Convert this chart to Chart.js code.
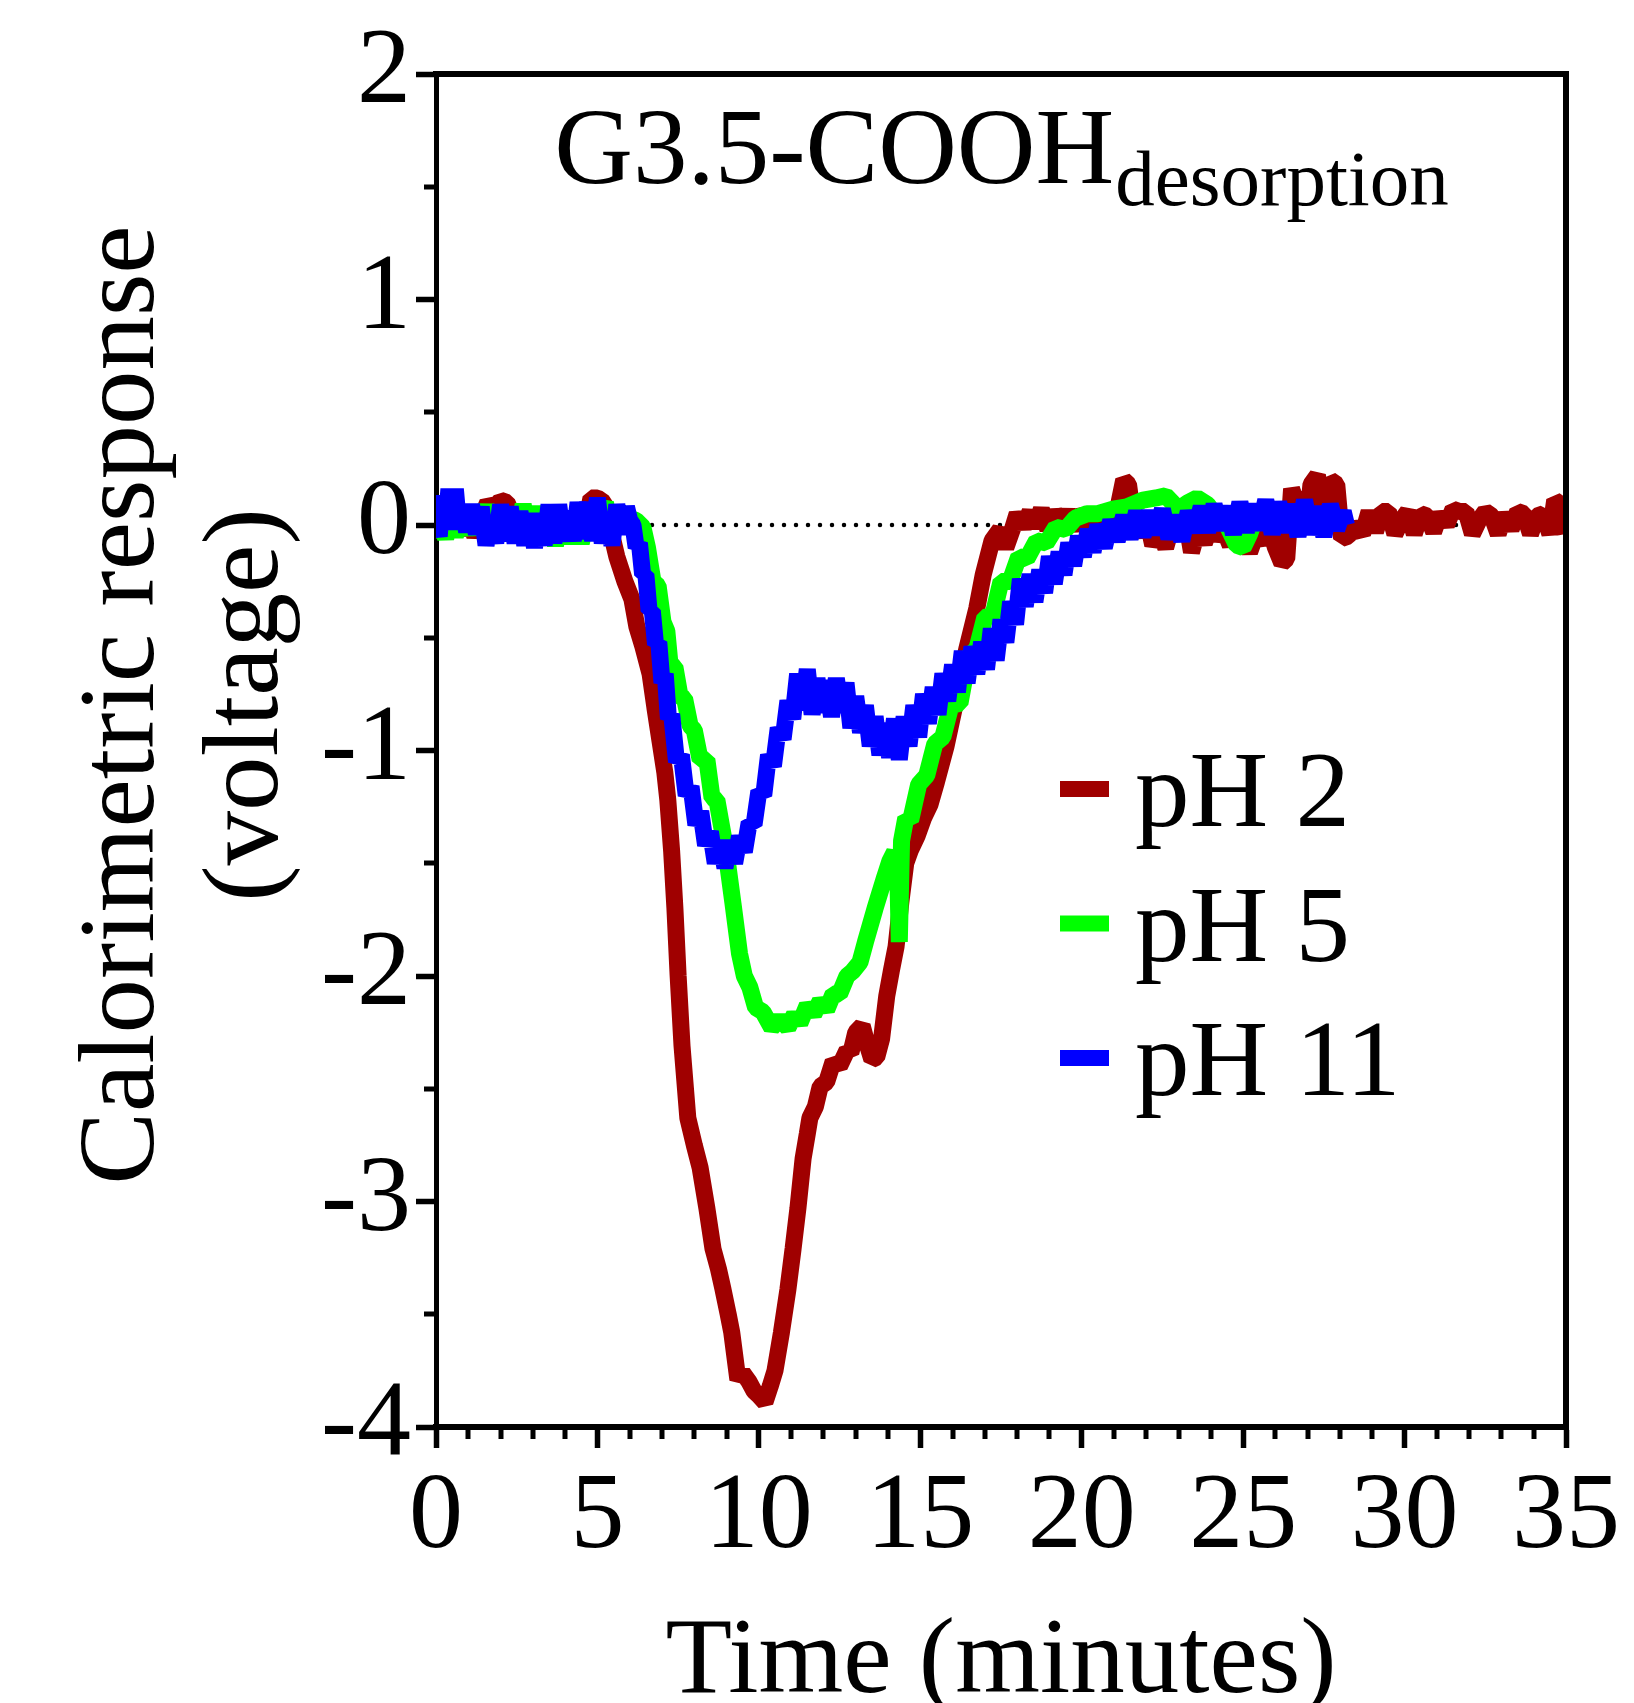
<!DOCTYPE html>
<html>
<head>
<meta charset="utf-8">
<title>G3.5-COOH desorption</title>
<script src="https://cdn.jsdelivr.net/npm/chart.js@4.4.1/dist/chart.umd.min.js"></script>
<style>
    html, body { margin: 0; padding: 0; background: #fff; }
    #wrap { width: 1634px; height: 1703px; }
</style>
</head>
<body>
<div id="wrap"><canvas id="calChart" width="1634" height="1703"></canvas></div>
<script>
// Data: [time (min), response (V)]
const seriesLabels = ['pH 2', 'pH 5', 'pH 11'];
const seriesColors = ['#a00000', '#00ff00', '#0000ff'];

const ph2 = [
    [0,-0.03],[0.2,0.05],[0.4,-0.02],[0.6,0.06],[0.8,-0.04],[1.0,0.04],[1.2,-0.05],[1.4,0.03],[1.6,0.10],[1.8,0.07],
    [2.0,0.11],[2.2,0.10],[2.4,0.03],[2.6,-0.03],[2.8,0.05],[3.0,-0.04],[3.2,0.04],[3.4,-0.05],[3.6,0.05],[3.8,-0.03],
    [4.0,0.04],[4.2,-0.04],[4.4,0.06],[4.6,-0.02],[4.8,0.12],[5.0,0.12],[5.2,0.10],[5.35,0.00],[5.5,-0.08],
    [5.6,-0.14],[5.85,-0.25],[6.07,-0.33],[6.22,-0.45],[6.41,-0.54],[6.63,-0.66],[6.78,-0.81],[6.94,-0.96],[7.09,-1.10],[7.18,-1.22],
    [7.3,-1.45],[7.4,-1.70],[7.5,-2.00],[7.62,-2.31],[7.8,-2.63],[8.0,-2.75],[8.18,-2.85],[8.39,-3.03],[8.58,-3.21],[8.75,-3.30],
    [8.89,-3.39],[9.05,-3.50],[9.16,-3.58],[9.35,-3.79],[9.5,-3.76],[9.7,-3.80],[9.85,-3.84],[10.0,-3.86],[10.19,-3.89],[10.35,-3.82],
    [10.5,-3.75],[10.7,-3.58],[10.9,-3.39],[11.06,-3.21],[11.21,-3.03],[11.37,-2.81],[11.5,-2.70],[11.58,-2.63],[11.75,-2.58],[11.9,-2.49],
    [12.1,-2.47],[12.3,-2.38],[12.5,-2.40],[12.73,-2.33],[12.85,-2.34],[13.0,-2.25],[13.2,-2.22],[13.35,-2.30],[13.5,-2.37],[13.65,-2.36],
    [13.8,-2.28],[13.96,-2.09],[14.1,-1.98],[14.25,-1.87],[14.4,-1.67],[14.55,-1.50],[14.7,-1.44],[14.9,-1.38],[15.1,-1.30],[15.3,-1.24],
    [15.5,-1.14],[15.8,-0.98],[16.1,-0.78],[16.44,-0.55],[16.75,-0.37],[16.95,-0.22],[17.22,-0.07],[17.47,-0.02],[17.65,-0.10],[17.85,-0.02],
    [18.0,0.05],[18.2,-0.01],[18.4,0.06],[18.55,-0.01],[18.75,0.07],[18.95,-0.02],[19.15,0.06],[19.35,0.00],[19.55,0.06],[19.8,-0.02],
    [20.0,0.06],[20.3,0.01],[20.6,0.05],[20.9,-0.02],[21.1,0.06],[21.3,0.20],[21.45,0.18],[21.6,0.02],[21.8,-0.05],[22.0,0.04],
    [22.2,-0.09],[22.4,-0.03],[22.6,-0.10],[22.8,0.00],[23.0,-0.02],[23.2,0.05],[23.4,-0.12],[23.6,-0.02],[23.8,-0.08],[24.0,0.00],
    [24.2,-0.06],[24.4,-0.02],[24.6,-0.09],[24.8,0.02],[25.0,-0.05],[25.2,-0.12],[25.4,-0.04],[25.6,-0.08],[25.8,0.00],[26.0,-0.10],
    [26.2,-0.17],[26.35,-0.15],[26.5,0.16],[26.65,0.10],[26.8,0.14],[26.95,-0.04],[27.1,0.18],[27.3,0.22],[27.5,0.04],[27.7,0.20],
    [27.9,0.18],[28.05,-0.06],[28.25,-0.05],[28.45,0.00],[28.7,-0.04],[28.9,0.06],[29.1,-0.03],[29.3,0.06],[29.5,0.06],[29.7,-0.04],
    [29.9,0.02],[30.1,0.06],[30.3,-0.04],[30.5,0.05],[30.7,0.04],[30.9,-0.03],[31.1,0.05],[31.3,0.00],[31.5,0.07],[31.7,0.06],
    [31.9,0.06],[32.1,-0.04],[32.3,0.02],[32.5,0.06],[32.7,0.04],[32.9,-0.04],[33.1,0.05],[33.3,-0.02],[33.5,0.06],[33.7,0.05],
    [33.9,-0.04],[34.1,0.04],[34.3,0.05],[34.5,-0.04],[34.65,0.11],[34.85,0.09],[35.0,-0.04]
];

const ph5 = [
    [0,-0.06],[0.15,0.02],[0.3,-0.06],[0.45,0.04],[0.6,-0.05],[0.8,0.05],[1.0,-0.04],[1.2,0.06],[1.4,-0.04],[1.55,0.09],
    [1.7,-0.05],[1.9,0.04],[2.1,-0.06],[2.3,0.06],[2.5,-0.05],[2.7,0.09],[2.9,-0.06],[3.1,0.08],[3.3,-0.06],[3.5,0.05],
    [3.7,-0.09],[3.9,0.04],[4.1,-0.08],[4.3,0.05],[4.5,-0.08],[4.7,0.04],[4.9,-0.05],[5.1,0.06],[5.25,0.10],[5.4,-0.05],
    [5.6,0.04],[5.8,-0.02],[6.0,0.03],[6.2,0.02],[6.41,-0.01],
    [6.55,-0.10],[6.72,-0.25],[6.88,-0.27],[7.03,-0.43],[7.15,-0.47],[7.25,-0.62],[7.4,-0.63],[7.56,-0.76],[7.7,-0.77],[7.87,-0.89],
    [8.0,-0.91],[8.18,-1.04],[8.39,-1.04],[8.55,-1.21],[8.7,-1.22],[8.9,-1.38],[9.05,-1.52],[9.2,-1.68],[9.4,-1.90],[9.55,-2.00],
    [9.72,-2.05],[9.9,-2.14],[10.13,-2.16],[10.4,-2.23],[10.65,-2.19],[10.9,-2.23],[11.1,-2.17],[11.27,-2.21],[11.5,-2.13],[11.7,-2.17],
    [11.9,-2.11],[12.1,-2.15],[12.3,-2.08],[12.5,-2.08],[12.73,-2.00],[12.9,-1.98],[13.13,-1.94],[13.3,-1.85],[13.44,-1.78],[13.6,-1.70],
    [13.75,-1.63],[13.9,-1.56],[14.06,-1.49],[14.2,-1.45],[14.3,-1.52],[14.35,-1.85],[14.42,-1.40],[14.55,-1.30],[14.7,-1.31],[14.95,-1.15],
    [15.2,-1.11],[15.45,-0.97],[15.7,-0.94],[15.95,-0.80],[16.23,-0.79],[16.5,-0.58],[16.75,-0.55],[17.0,-0.41],[17.25,-0.40],[17.5,-0.25],
    [17.78,-0.25],[18.05,-0.14],[18.3,-0.15],[18.6,-0.07],[18.9,-0.08],[19.2,-0.01],[19.5,-0.02],[19.8,0.03],[20.16,0.05],[20.5,0.05],
    [20.97,0.07],[21.4,0.08],[21.9,0.11],[22.3,0.12],[22.6,0.13],[22.8,0.10],[23.0,0.07],[23.3,0.10],[23.57,0.12],[23.9,0.09],
    [24.2,0.03],[24.5,0.00],[24.8,-0.09],[25.0,-0.10],[25.2,-0.04],[25.3,0.00]
];

const ph11 = [
    [0,0.00],[0.1,-0.05],[0.2,0.13],[0.3,-0.02],[0.4,0.16],[0.5,-0.02],[0.6,0.16],[0.7,0.00],[0.8,0.09],[0.95,-0.03],
    [1.1,0.09],[1.25,-0.04],[1.4,0.08],[1.55,-0.09],[1.7,0.03],[1.85,-0.08],[2.0,0.09],[2.15,-0.07],[2.3,0.08],[2.45,-0.08],
    [2.6,0.06],[2.75,-0.09],[2.9,0.05],[3.05,-0.10],[3.2,0.05],[3.35,-0.09],[3.5,0.09],[3.65,-0.08],[3.8,0.09],[3.95,-0.07],
    [4.1,0.06],[4.25,-0.07],[4.4,0.10],[4.55,-0.06],[4.7,0.10],[4.85,-0.07],[5.0,0.12],[5.15,-0.08],[5.3,0.05],[5.45,-0.09],
    [5.6,0.09],[5.75,-0.04],[5.9,0.08],[6.0,0.02],
    [6.1,0.00],[6.2,-0.10],[6.3,-0.08],[6.4,-0.22],[6.5,-0.22],[6.6,-0.38],[6.7,-0.38],[6.8,-0.53],[6.9,-0.52],[7.0,-0.70],
    [7.1,-0.66],[7.2,-0.86],[7.3,-0.84],[7.45,-1.05],[7.6,-1.02],[7.75,-1.20],[7.9,-1.16],[8.05,-1.33],[8.2,-1.27],[8.35,-1.42],
    [8.5,-1.36],[8.65,-1.50],[8.8,-1.40],[8.95,-1.52],[9.1,-1.40],[9.25,-1.50],[9.4,-1.38],[9.55,-1.45],[9.7,-1.32],[9.85,-1.33],
    [10.0,-1.18],[10.15,-1.20],[10.3,-1.02],[10.45,-1.07],[10.6,-0.90],[10.75,-0.95],[10.9,-0.78],[11.05,-0.86],[11.2,-0.66],[11.35,-0.82],
    [11.5,-0.64],[11.65,-0.84],[11.8,-0.68],[11.95,-0.83],[12.1,-0.69],[12.25,-0.85],[12.4,-0.68],[12.55,-0.83],[12.7,-0.70],[12.85,-0.90],
    [13.0,-0.76],[13.15,-0.92],[13.3,-0.80],[13.45,-0.98],[13.6,-0.85],[13.75,-1.02],[13.9,-0.88],[14.05,-1.03],[14.2,-0.86],[14.35,-1.04],
    [14.5,-0.85],[14.65,-0.98],[14.8,-0.80],[14.95,-0.94],[15.1,-0.75],[15.25,-0.88],[15.4,-0.72],[15.55,-0.84],[15.7,-0.66],[15.85,-0.78],
    [16.0,-0.62],[16.15,-0.74],[16.3,-0.56],[16.45,-0.70],[16.6,-0.54],[16.75,-0.66],[16.9,-0.52],[17.05,-0.64],[17.2,-0.46],[17.35,-0.60],
    [17.5,-0.42],[17.65,-0.52],[17.8,-0.34],[17.95,-0.44],[18.1,-0.24],[18.25,-0.36],[18.4,-0.22],[18.55,-0.34],[18.7,-0.20],[18.85,-0.30],
    [19.0,-0.14],[19.15,-0.26],[19.3,-0.12],[19.45,-0.22],[19.6,-0.08],[19.75,-0.18],[19.9,-0.05],[20.05,-0.14],[20.2,-0.02],[20.35,-0.12],
    [20.5,0.00],[20.7,-0.10],[20.9,0.02],[21.1,-0.07],[21.3,0.04],[21.5,-0.06],[21.7,0.06],[21.9,-0.05],[22.1,0.06],[22.3,-0.04],
    [22.5,0.07],[22.7,-0.06],[22.9,0.04],[23.1,-0.07],[23.3,0.06],[23.5,-0.03],[23.7,0.08],[23.9,-0.03],[24.1,0.09],[24.3,-0.02],
    [24.5,0.08],[24.7,-0.04],[24.9,0.10],[25.1,-0.03],[25.3,0.09],[25.5,-0.02],[25.7,0.11],[25.9,-0.04],[26.1,0.10],[26.3,-0.03],
    [26.5,0.09],[26.7,-0.05],[26.9,0.11],[27.1,-0.04],[27.3,0.08],[27.5,-0.05],[27.7,0.09],[27.9,-0.02],[28.1,0.06],[28.2,0.00]
];

// axis ticks
const xTicks = [0, 5, 10, 15, 20, 25, 30, 35];
const yTicks = [-4, -3, -2, -1, 0, 1, 2];
const xMinor = [1,2,3,4,6,7,8,9,11,12,13,14,16,17,18,19,21,22,23,24,26,27,28,29,31,32,33,34];
const yMinor = [-3.5, -2.5, -1.5, -0.5, 0.5, 1.5];
const baselineRange = [0, 35];

const SERIF = "'Liberation Serif', 'Times New Roman', Times, serif";
const FS = 108;

function toPoints(arr) {
    return arr.map(p => ({ x: p[0], y: p[1] }));
}

// draws the frame, minor ticks, titles and legend
const decorations = {
    id: 'decorations',
    afterDraw(chart) {
        const { ctx, chartArea: a, scales: { x, y } } = chart;
        ctx.save();
        ctx.strokeStyle = '#000';
        ctx.fillStyle = '#000';
        ctx.lineCap = 'butt';

        // top and right frame
        ctx.lineWidth = 6;
        ctx.beginPath();
        ctx.moveTo(a.left - 3, a.top);
        ctx.lineTo(a.right, a.top);
        ctx.lineTo(a.right, a.bottom + 3);
        ctx.stroke();

        // minor ticks
        ctx.lineWidth = 5;
        ctx.beginPath();
        xMinor.forEach(v => {
            const px = Math.round(x.getPixelForValue(v));
            ctx.moveTo(px, a.bottom);
            ctx.lineTo(px, a.bottom + 12);
        });
        yMinor.forEach(v => {
            const py = Math.round(y.getPixelForValue(v));
            ctx.moveTo(a.left, py);
            ctx.lineTo(a.left - 12, py);
        });
        ctx.stroke();

        // chart title with subscript
        const mainTxt = 'G3.5-COOH', subTxt = 'desorption';
        ctx.font = `${FS + 1}px ${SERIF}`;
        const wMain = ctx.measureText(mainTxt).width;
        ctx.font = `79px ${SERIF}`;
        const wSub = ctx.measureText(subTxt).width;
        const cx = (a.left + a.right) / 2;
        const tx = cx - (wMain + wSub) / 2;
        ctx.textAlign = 'left';
        ctx.textBaseline = 'alphabetic';
        ctx.font = `${FS + 1}px ${SERIF}`;
        ctx.fillText(mainTxt, tx, 183);
        ctx.font = `79px ${SERIF}`;
        ctx.fillText(subTxt, tx + wMain + 1, 205);

        // y axis title (two lines)
        ctx.font = `${FS + 1}px ${SERIF}`;
        ctx.textAlign = 'center';
        [['Calorimetric response', 153], ['(voltage)', 277]].forEach(([txt, bx]) => {
            ctx.save();
            ctx.translate(bx, 705);
            ctx.rotate(-Math.PI / 2);
            ctx.fillText(txt, 0, 0);
            ctx.restore();
        });

        // x axis title
        ctx.fillText('Time (minutes)', cx, 1692);

        // legend
        ctx.textAlign = 'left';
        seriesLabels.forEach((lbl, i) => {
            const cy = 789 + i * 134.5;
            ctx.fillStyle = seriesColors[i];
            ctx.fillRect(1060, cy - 8, 49, 16);
            ctx.fillStyle = '#000';
            ctx.fillText(lbl, 1135, cy + 37);
        });

        ctx.restore();
    }
};

const series = [ph2, ph5, ph11];

const datasets = series.map((s, i) => ({
    label: seriesLabels[i],
    data: toPoints(s),
    borderColor: seriesColors[i],
    borderWidth: 17,
    borderJoinStyle: 'bevel',
    pointRadius: 0,
    tension: 0,
    fill: false,
    order: 2 - i
}));

// dotted zero line underneath everything
datasets.push({
    label: 'baseline',
    data: baselineRange.map(t => ({ x: t, y: 0 })),
    borderColor: '#000',
    borderWidth: 4.5,
    borderDash: [0, 12],
    borderCapStyle: 'round',
    pointRadius: 0,
    fill: false,
    order: 5
});

new Chart(document.getElementById('calChart'), {
    type: 'line',
    data: { datasets },
    options: {
        responsive: false,
        animation: false,
        devicePixelRatio: 1,
        layout: { padding: { top: 74, right: 68, left: 0, bottom: 0 } },
        plugins: {
            legend: { display: false },
            tooltip: { enabled: false }
        },
        scales: {
            x: {
                type: 'linear',
                min: 0,
                max: 35,
                afterBuildTicks: scale => { scale.ticks = xTicks.map(v => ({ value: v })); },
                afterFit: scale => { scale.height = 276; },
                ticks: {
                    color: '#000',
                    font: { family: SERIF, size: FS },
                    padding: 6,
                    maxRotation: 0,
                    autoSkip: false
                },
                grid: {
                    drawOnChartArea: false,
                    drawTicks: true,
                    tickLength: 21,
                    tickWidth: 5.5,
                    tickColor: '#000'
                },
                border: { color: '#000', width: 6 }
            },
            y: {
                type: 'linear',
                min: -4,
                max: 2,
                afterBuildTicks: scale => { scale.ticks = yTicks.map(v => ({ value: v })); },
                afterFit: scale => { scale.width = 436; },
                ticks: {
                    color: '#000',
                    font: { family: SERIF, size: FS },
                    padding: 5,
                    autoSkip: false
                },
                grid: {
                    drawOnChartArea: false,
                    drawTicks: true,
                    tickLength: 20,
                    tickWidth: 5.5,
                    tickColor: '#000'
                },
                border: { color: '#000', width: 5 }
            }
        }
    },
    plugins: [decorations]
});
</script>
</body>
</html>
